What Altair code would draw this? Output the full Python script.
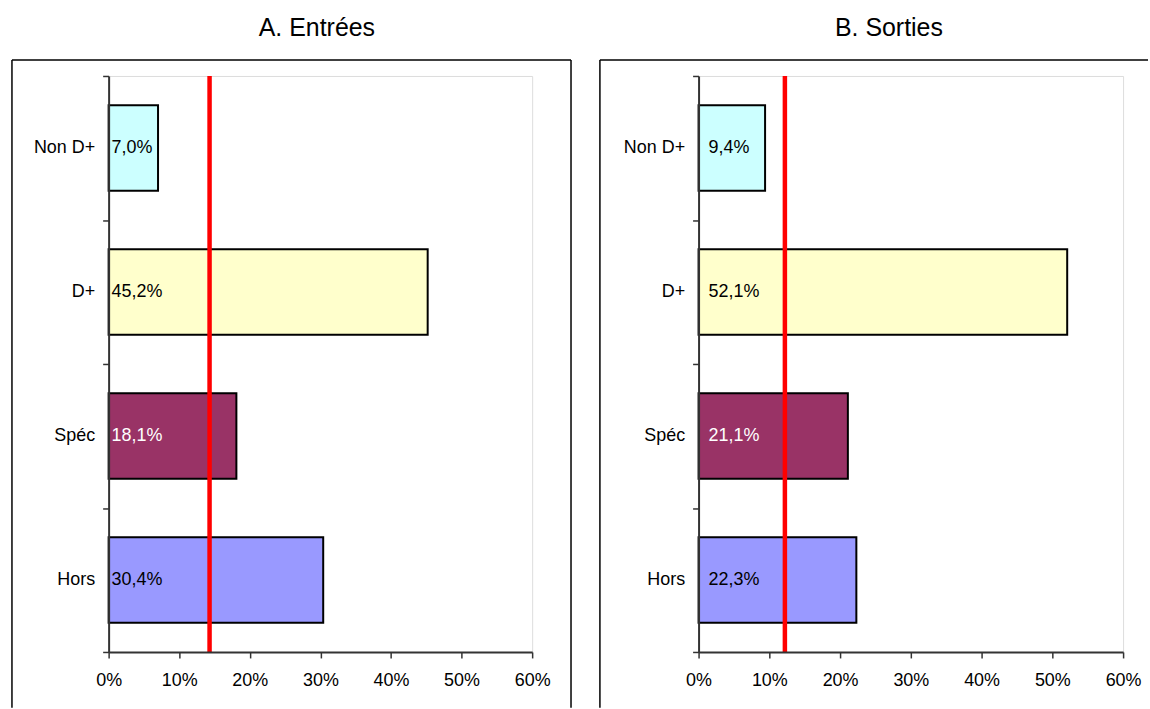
import altair as alt
import pandas as pd

# Share of each category, in percent
categories = ["Non D+", "D+", "Spéc", "Hors"]
entrees = [7.0, 45.2, 18.1, 30.4]
sorties = [9.4, 52.1, 21.1, 22.3]
fill_colors = ["#CCFFFF", "#FFFFCC", "#993366", "#9999FF"]
label_colors = ["black", "black", "white", "black"]

# Reference level drawn as a red vertical line
ref_entrees = 14.3
ref_sorties = 12.2

x_ticks = [0, 10, 20, 30, 40, 50, 60]

FONT = "Liberation Sans"
PLOT_H = 578


def fmt(v):
    return f"{v:.1f}".replace(".", ",") + "%"


def panel(values, ref, title, title_x, label_dx, width, frame_l, frame_r, draw_right, bg_l, bg_r):
    df = pd.DataFrame({
        "cat": categories,
        "value": values,
        "label": [fmt(v) for v in values],
        "tcolor": label_colors,
    })

    x_enc = alt.X(
        "value:Q",
        scale=alt.Scale(domain=[0, 60], nice=False),
        axis=alt.Axis(
            title=None, values=x_ticks, labelExpr="datum.value + '%'", grid=False,
            labelFlush=False, domainColor="#333333", domainWidth=2,
            tickColor="#333333", tickWidth=1.5, tickSize=6, labelPadding=14,
            labelFontSize=18, labelFont=FONT, labelColor="black", zindex=1,
        ),
    )
    y_enc = alt.Y(
        "cat:N",
        sort=categories,
        scale=alt.Scale(paddingInner=0, paddingOuter=0),
        axis=alt.Axis(
            title=None, tickBand="extent", domainColor="#333333", domainWidth=2,
            tickColor="#333333", tickWidth=1.5, tickSize=6, labelPadding=8,
            labelFontSize=18, labelFont=FONT, labelColor="black", zindex=1,
        ),
    )

    base = alt.Chart(df)

    # invisible box that sets the panel's footprint
    box = alt.Chart(pd.DataFrame({"k": [0]})).mark_rect(opacity=0).encode(
        x=alt.value(bg_l), x2=alt.value(bg_r), y=alt.value(-74), y2=alt.value(635)
    )

    # panel frame (open at the bottom, where the page ends)
    frame_data = pd.DataFrame({"k": [0]})
    frame = [
        alt.Chart(frame_data).mark_rule(color="black", strokeWidth=1.5).encode(
            x=alt.value(frame_l), y=alt.value(-16), y2=alt.value(634)),
        alt.Chart(frame_data).mark_rule(color="black", strokeWidth=1.5).encode(
            x=alt.value(frame_l), x2=alt.value(frame_r), y=alt.value(-16)),
    ]
    if draw_right:
        frame.append(
            alt.Chart(frame_data).mark_rule(color="black", strokeWidth=1.5).encode(
                x=alt.value(frame_r), y=alt.value(-16), y2=alt.value(634)))

    bars = base.mark_bar(stroke="black", strokeWidth=2, height=alt.RelativeBandSize(0.595)).encode(
        x=x_enc,
        y=y_enc,
        color=alt.Color("cat:N", scale=alt.Scale(domain=categories, range=fill_colors), legend=None),
    )

    labels = base.mark_text(
        align="left", baseline="middle", dx=label_dx, fontSize=18, font=FONT
    ).encode(
        x=alt.datum(0),
        y=alt.Y("cat:N", sort=categories),
        text="label:N",
        color=alt.Color("tcolor:N", scale=None),
    )

    ref_line = alt.Chart(pd.DataFrame({"ref": [ref]})).mark_rule(
        color="#FF0000", strokeWidth=4.5
    ).encode(x="ref:Q")

    head = alt.Chart(pd.DataFrame({"t": [title]})).mark_text(
        align="center", baseline="alphabetic", fontSize=25, font=FONT, color="black"
    ).encode(x=alt.value(title_x), y=alt.value(-40), text="t:N")

    return alt.layer(box, *frame, bars, ref_line, labels, head).properties(
        width=width, height=PLOT_H
    )


left = panel(entrees, ref_entrees, "A. Entrées", 209, 3, 425, -97, 464, True, -108, 477)
right = panel(sorties, ref_sorties, "B. Sorties", 191, 10, 426, -99, 451, False, -113, 452)

chart = alt.hconcat(left, right, spacing=0).properties(padding=0).configure_view(
    stroke="#808080", strokeWidth=2
).configure(background="white")

chart.save("out.html", embed_options={"renderer": "svg", "actions": False})
